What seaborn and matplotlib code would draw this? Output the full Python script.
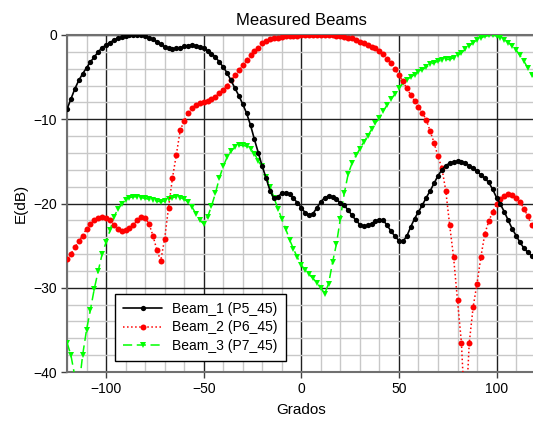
import numpy as np
import pandas as pd
import matplotlib
matplotlib.use("Agg")
import matplotlib.pyplot as plt
from matplotlib.ticker import MultipleLocator
import seaborn as sns

angles = list(range(-120, 121, 2))

beam_1 = [-8.8, -7.6, -6.4, -5.4, -4.6, -3.9, -3.2, -2.6, -2.0, -1.5,
          -1.2, -0.9, -0.6, -0.4, -0.25, -0.1, -0.05, 0.0, 0.0, -0.05,
          -0.15, -0.3, -0.5, -0.8, -1.1, -1.4, -1.6, -1.65, -1.6, -1.5,
          -1.35, -1.25, -1.2, -1.25, -1.4, -1.6, -1.9, -2.2, -2.6, -3.2,
          -3.8, -4.5, -5.4, -6.3, -7.2, -8.2, -9.3, -10.7, -12.4, -14.0,
          -15.6, -17.0, -18.5, -19.4, -19.2, -18.8, -18.7, -18.9, -19.4, -19.9,
          -20.5, -21.1, -21.4, -21.2, -20.5, -19.8, -19.3, -19.1, -19.2, -19.5,
          -19.9, -20.2, -20.8, -21.4, -22.0, -22.5, -22.7, -22.6, -22.4, -22.1,
          -21.9, -22.0, -22.6, -23.3, -23.9, -24.4, -24.5, -23.9, -22.8, -21.8,
          -21.0, -20.2, -19.3, -18.5, -17.6, -16.7, -16.0, -15.5, -15.2, -15.05,
          -15.0, -15.05, -15.2, -15.5, -15.8, -16.2, -16.6, -17.0, -17.5, -18.3,
          -19.3, -20.1, -21.0, -22.0, -23.0, -23.8, -24.6, -25.3, -25.8, -26.2,
          -26.4]

beam_2 = [-26.6, -26.0, -25.2, -24.5, -23.8, -23.0, -22.4, -22.0, -21.7, -21.6,
          -21.7, -22.0, -22.5, -23.0, -23.3, -23.2, -22.9, -22.5, -22.0, -21.6,
          -21.7, -22.4, -23.8, -25.5, -26.8, -24.2, -20.5, -17.0, -14.2, -11.3,
          -10.2, -9.3, -8.7, -8.3, -8.1, -8.0, -7.8, -7.6, -7.3, -6.9,
          -6.5, -6.0, -5.4, -4.8, -4.2, -3.6, -3.0, -2.4, -1.9, -1.5,
          -1.0, -0.7, -0.5, -0.35, -0.3, -0.2, -0.15, -0.1, -0.1, -0.1,
          -0.05, -0.05, -0.05, 0.0, 0.0, 0.0, 0.0, 0.0, -0.05, -0.1,
          -0.15, -0.2, -0.3, -0.4, -0.6, -0.8, -1.0, -1.2, -1.4, -1.6,
          -1.9, -2.3, -2.8, -3.3, -4.0, -4.8, -5.5, -6.3, -7.1, -7.8,
          -8.6, -9.2, -10.1, -11.4, -12.8, -14.4, -15.8, -18.5, -22.6, -26.4,
          -31.5, -36.5, -46.0, -36.6, -32.3, -29.5, -26.3, -23.6, -22.1, -21.0,
          -20.1, -19.5, -19.1, -18.9, -19.0, -19.3, -19.8, -20.6, -21.5, -22.6,
          -23.2]

beam_3 = [-36.5, -38.0, -40.5, -42.0, -38.0, -35.0, -32.6, -30.1, -28.0, -26.0,
          -24.6, -23.2, -21.6, -20.7, -20.0, -19.6, -19.3, -19.2, -19.2, -19.3,
          -19.4, -19.5, -19.6, -19.7, -19.8, -19.7, -19.5, -19.3, -19.2, -19.3,
          -19.5, -19.8, -20.4, -21.2, -22.0, -22.4, -21.6, -20.3, -18.8, -17.0,
          -15.6, -14.5, -13.8, -13.3, -13.1, -13.1, -13.2, -13.5, -14.1, -14.9,
          -15.6, -16.8, -18.0, -19.3, -20.6, -21.8, -23.0, -24.3, -25.4, -26.4,
          -27.3, -27.9, -28.4, -28.9, -29.4, -30.0, -30.7, -29.5, -27.0, -24.8,
          -21.8, -18.8, -16.5, -15.2, -14.3, -13.5, -12.7, -12.0, -11.2, -10.4,
          -9.9, -9.0, -8.3, -7.6, -7.0, -6.3, -5.7, -5.3, -5.0, -4.7,
          -4.4, -4.1, -3.8, -3.5, -3.3, -3.1, -3.0, -2.9, -2.9, -2.7,
          -2.4, -2.1, -1.7, -1.3, -0.9, -0.6, -0.35, -0.15, -0.05, 0.0,
          -0.1, -0.3, -0.55, -0.9, -1.3, -1.8, -2.4, -3.1, -3.9, -4.7,
          -5.3]

labels = ["Beam_1 (P5_45)", "Beam_2 (P6_45)", "Beam_3 (P7_45)"]
x_ticks = [-100, -50, 0, 50, 100]
y_ticks = [0, -10, -20, -30, -40]

sns.set_style("ticks")
plt.rcParams['font.family'] = ['Liberation Sans', 'DejaVu Sans']
plt.rcParams['text.color'] = 'black'
plt.rcParams['axes.labelcolor'] = 'black'
plt.rcParams['xtick.labelcolor'] = 'black'
plt.rcParams['ytick.labelcolor'] = 'black'

fig = plt.figure(figsize=(5.33, 4.21), dpi=100)
ax = fig.add_axes([67/533, 1-372/421, (535.6-67)/533, 337/421])

df1 = pd.DataFrame({"x": angles, "y": beam_1})
df2 = pd.DataFrame({"x": angles, "y": beam_2})
df3 = pd.DataFrame({"x": angles, "y": beam_3})

sns.lineplot(data=df1, x="x", y="y", ax=ax, color="black", linestyle="-",
             linewidth=1.2, marker="o", markersize=3.8, markeredgewidth=0,
             label=labels[0], zorder=5)
sns.lineplot(data=df2, x="x", y="y", ax=ax, color="#ff0000", linestyle=":",
             linewidth=1.1, marker="o", markersize=4.3, markeredgewidth=0,
             label=labels[1], zorder=4)
sns.lineplot(data=df3, x="x", y="y", ax=ax, color="#00ff00", linestyle=(0, (6, 3)),
             linewidth=1.1, marker="v", markersize=4.6, markeredgewidth=0,
             label=labels[2], zorder=3)

ax.set_xlim(-120, 120)
ax.set_ylim(-40, 0)
ax.set_xticks(x_ticks)
ax.set_yticks(y_ticks)
ax.xaxis.set_minor_locator(MultipleLocator(10))
ax.yaxis.set_minor_locator(MultipleLocator(2))
ax.grid(which="minor", color="#c8c8c8", linewidth=1.0, zorder=0)
ax.grid(which="major", color="#202020", linewidth=1.0, zorder=1)
ax.set_axisbelow(True)
ax.tick_params(which="minor", length=0)
ax.tick_params(which="major", direction="out", length=4, width=1,
               labelsize=10, color="#404040", labelcolor="black", pad=3)
for s in ax.spines.values():
    s.set_color("#707070")
    s.set_linewidth(1.5)

ax.set_title("Measured Beams", fontsize=12, pad=7, color="black")
ax.set_xlabel("Grados", fontsize=11, labelpad=5, color="black")
ax.set_ylabel("E(dB)", fontsize=11, labelpad=4, color="black")

leg = ax.legend(loc="lower left", bbox_to_anchor=(48/468.6, 11/337),
                borderaxespad=0, fontsize=10, frameon=True, fancybox=False,
                framealpha=1, edgecolor="black", handlelength=2.8,
                handletextpad=0.7, labelspacing=0.3, borderpad=0.6)
leg.get_frame().set_linewidth(1.0)
for t in leg.get_texts():
    t.set_color("black")

fig.savefig("out.png", dpi=100)
